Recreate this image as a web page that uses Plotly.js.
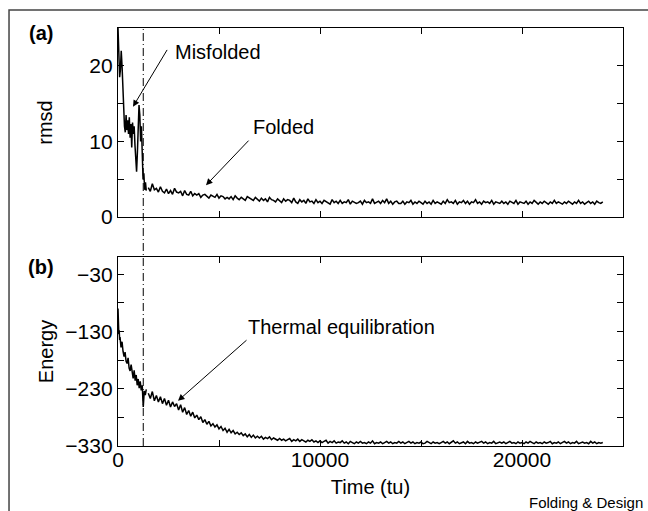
<!DOCTYPE html>
<html>
<head>
<meta charset="utf-8">
<script src="https://cdn.plot.ly/plotly-3.0.1.min.js"></script>
<style>html,body{margin:0;padding:0;background:#fff;}#chart{width:648px;height:511px;}</style>
</head>
<body>
<div id="chart"></div>
<script>
// ---- data ----
// (a) rmsd, early part (fine sampling)
var rmsdEarlyTime = [0,40,80,120,160,200,240,280,320,360,400,440,480,520,560,600,640,680,720,760,800,840,880,920,960,1000,1040,1080,1120,1160,1200,1240,1280,1320,1360,1400];
var rmsdEarly = [25,22,18.5,19.5,22,20,17,14,12,11.2,13.5,11.5,12.8,11.0,13.2,10.5,12.3,9.2,12.5,11.0,12.0,9.5,7.5,6.0,8.5,11.5,14.8,13.5,10.0,12.0,7.5,5.0,5.8,3.6,4.6,3.5];
// (a) rmsd, t = 1500 ... 24000 every 100 tu
var rmsdLateStart = 1500, rmsdLateStep = 100;
var rmsdLate = [
3.9,3.4,4.4,3.6,3.8,
3.3,4.0,3.4,3.2,3.7,3.1,3.5,3.0,3.8,3.3,
3.2,3.4,2.8,3.5,3.0,2.9,3.4,2.8,3.1,2.9,
3.1,2.6,2.9,3.0,2.7,2.5,2.9,2.8,2.6,3.0,
2.5,2.8,2.7,2.4,2.6,2.4,2.7,2.3,2.8,2.5,
2.3,2.6,2.4,2.2,2.7,2.5,2.3,2.2,2.6,2.3,
2.1,2.5,2.2,2.4,2.0,2.6,2.3,2.2,2.0,2.4,
2.2,1.9,2.4,2.1,2.3,2.2,1.9,2.5,2.0,1.8,
2.3,2.0,2.2,1.8,2.4,2.0,2.1,1.8,2.3,1.9,
2.1,1.8,2.2,2.0,1.9,1.7,2.3,1.9,2.1,1.8,
2.2,1.8,2.0,1.9,2.3,1.7,2.1,2.0,1.8,1.9,
2.1,1.7,2.2,1.9,2.0,1.8,2.4,1.8,1.9,2.1,
1.8,2.2,1.9,2.4,1.8,2.1,1.7,2.0,2.1,1.8,
1.8,2.1,1.7,2.0,1.9,2.2,1.7,2.0,1.8,2.1,
1.9,1.7,2.1,1.8,2.0,1.7,2.2,1.8,2.0,1.9,
1.7,2.1,1.8,2.3,1.9,2.0,1.8,2.2,1.7,2.0,
1.9,2.2,1.8,2.1,1.7,2.0,1.9,2.3,1.8,2.0,
1.7,2.1,1.9,2.0,1.8,2.2,1.7,2.0,1.9,1.8,
2.1,1.8,2.0,1.7,2.1,1.9,1.8,2.2,1.7,2.0,
1.9,1.8,2.1,1.7,2.0,1.8,2.2,1.9,1.7,2.0,
1.8,2.1,1.9,1.7,2.0,1.8,2.2,1.8,2.0,1.9,
1.7,2.0,1.8,2.1,1.9,1.7,2.0,1.8,2.2,1.8,
2.0,1.7,1.9,2.1,1.8,2.0,1.7,2.1,1.9,1.8,
2.0];
// (b) energy, early part (fine sampling)
var energyEarlyTime = [0,20,40,60,80,100,150,200,250,300,350,400,450,500,550,600,650,700,750,800,850,900,950,1000,1050,1100,1150,1200,1250,1300,1350,1400];
var energyEarly = [-90,-118,-135,-128,-145,-140,-158,-148,-165,-174,-166,-182,-186,-176,-194,-199,-188,-206,-212,-198,-216,-206,-224,-213,-229,-217,-233,-224,-262,-234,-241,-231];
// (b) energy, t = 1500 ... 24000 every 100 tu
var energyLateStart = 1500, energyLateStep = 100;
var energyLate = [
-238,-247,-235,-251,-242,
-253,-244,-256,-247,-259,-250,-262,-253,-261,-256,
-267,-258,-271,-263,-275,-268,-278,-271,-281,-276,
-284,-279,-289,-284,-292,-287,-295,-291,-297,-293,
-300,-296,-303,-299,-306,-301,-307,-303,-309,-306,
-310,-307,-312,-309,-314,-310,-315,-311,-316,-313,
-316,-313,-318,-315,-317,-314,-319,-316,-318,-320,
-317,-320,-318,-321,-319,-317,-322,-319,-321,-318,
-322,-319,-321,-323,-320,-322,-319,-323,-321,-324,
-321,-324,-322,-320,-325,-322,-324,-321,-325,-323,
-324,-321,-325,-323,-326,-322,-324,-326,-323,-325,
-322,-325,-324,-326,-323,-325,-321,-326,-324,-325,
-323,-326,-324,-322,-325,-323,-326,-324,-325,-322,
-325,-323,-326,-324,-322,-325,-323,-326,-324,-325,
-323,-326,-325,-322,-324,-326,-323,-325,-324,-326,
-324,-322,-325,-323,-326,-324,-321,-325,-323,-326,
-325,-323,-326,-322,-325,-324,-326,-323,-325,-324,
-322,-325,-323,-326,-324,-325,-322,-326,-324,-323,
-325,-323,-326,-324,-322,-325,-324,-326,-323,-325,
-324,-326,-323,-325,-322,-324,-326,-323,-325,-324,
-326,-323,-325,-324,-322,-326,-324,-325,-323,-326,
-324,-322,-325,-323,-326,-324,-325,-322,-326,-324,
-323,-325,-324,-326,-322,-325,-323,-326,-324,-325,
-324];
// vertical marker (misfolded -> folded transition)
var transitionTime = 1250;
// axis ticks
var timeTicks = [0,5000,10000,15000,20000,25000];
var timeTickText = ['0','','10000','','20000',''];
var rmsdTicks = [0,5,10,15,20,25];
var rmsdTickText = ['0','','10','','20',''];
var energyTicks = [-330,-280,-230,-180,-130,-80,-30];
var energyTickText = ['\u2212330','','\u2212230','','\u2212130','','\u221230'];

var FONT = 'Liberation Sans, Arial, Helvetica, sans-serif';
var lineStyle = {color:'#000', width:1.5};

var traces = [
  {x:rmsdEarlyTime, y:rmsdEarly, type:'scatter', mode:'lines', line:lineStyle, xaxis:'x', yaxis:'y', hoverinfo:'skip'},
  {x0:rmsdLateStart, dx:rmsdLateStep, y:rmsdLate, type:'scatter', mode:'lines', line:lineStyle, xaxis:'x', yaxis:'y', hoverinfo:'skip'},
  {x:energyEarlyTime, y:energyEarly, type:'scatter', mode:'lines', line:lineStyle, xaxis:'x2', yaxis:'y2', hoverinfo:'skip'},
  {x0:energyLateStart, dx:energyLateStep, y:energyLate, type:'scatter', mode:'lines', line:lineStyle, xaxis:'x2', yaxis:'y2', hoverinfo:'skip'}
];

var axisCommon = {
  showgrid:false, zeroline:false, showline:true, linecolor:'#000', linewidth:1.2,
  mirror:'ticks', ticks:'inside', ticklen:6, tickwidth:1, tickcolor:'#000',
  tickfont:{family:FONT, size:21, color:'#000'}, tickmode:'array'
};
function ax(extra){ var o = {}; for (var k in axisCommon) o[k]=axisCommon[k]; for (var k2 in extra) o[k2]=extra[k2]; return o; }

var layout = {
  width:648, height:511,
  margin:{l:118, r:25, t:28, b:65},
  paper_bgcolor:'#fff', plot_bgcolor:'#fff',
  showlegend:false,
  font:{family:FONT, color:'#000'},
  xaxis: ax({anchor:'y', range:[0,25000], tickvals:timeTicks, ticktext:timeTicks.map(function(){return '';}), showticklabels:false}),
  yaxis: ax({domain:[0.5478,1], anchor:'x', range:[0,25], tickvals:rmsdTicks, ticktext:rmsdTickText,
             title:{text:'rmsd', font:{family:FONT, size:20, color:'#000'}, standoff:31}}),
  xaxis2: ax({anchor:'y2', range:[0,25000], tickvals:timeTicks, ticktext:timeTickText, ticklabelstandoff:-5,
             title:{text:'Time (tu)', font:{family:FONT, size:20, color:'#000'}, standoff:9}}),
  yaxis2: ax({domain:[0,0.4522], anchor:'x2', range:[-330,0], tickvals:energyTicks, ticktext:energyTickText,
             title:{text:'Energy', font:{family:FONT, size:20, color:'#000'}, standoff:6}}),
  shapes:[
    {type:'line', xref:'x', yref:'paper', x0:transitionTime, x1:transitionTime, y0:0, y1:1,
     line:{color:'#000', width:1, dash:'8px,3px,1px,3px'}},
    {type:'rect', xref:'paper', yref:'paper', x0:-0.2158, x1:1.15, y0:-0.25, y1:1.0431,
     line:{color:'#444', width:1.5}, fillcolor:'rgba(0,0,0,0)', layer:'below'}
  ],
  annotations:[
    {xref:'paper', yref:'paper', x:-0.1525, y:0.988, text:'<b>(a)</b>', showarrow:false, font:{family:FONT, size:20, color:'#000'}, xanchor:'center', yanchor:'middle'},
    {xref:'paper', yref:'paper', x:-0.1525, y:0.428, text:'<b>(b)</b>', showarrow:false, font:{family:FONT, size:20, color:'#000'}, xanchor:'center', yanchor:'middle'},
    {xref:'x', yref:'y', x:4950, y:21.85, text:'Misfolded', showarrow:false, font:{family:FONT, size:20, color:'#000'}},
    {xref:'x', yref:'y', x:743, y:14.6, ax:2475, ay:22.3, axref:'x', ayref:'y', text:'', showarrow:true, arrowhead:2, arrowsize:1.3, arrowwidth:1, arrowcolor:'#000'},
    {xref:'x', yref:'y', x:8193, y:11.9, text:'Folded', showarrow:false, font:{family:FONT, size:20, color:'#000'}},
    {xref:'x', yref:'y', x:4356, y:4.2, ax:6535, ay:10.3, axref:'x', ayref:'y', text:'', showarrow:true, arrowhead:2, arrowsize:1.3, arrowwidth:1, arrowcolor:'#000'},
    {xref:'x2', yref:'y2', x:11040, y:-122, text:'Thermal equilibration', showarrow:false, font:{family:FONT, size:20, color:'#000'}},
    {xref:'x2', yref:'y2', x:2970, y:-251, ax:6436, ay:-143, axref:'x2', ayref:'y2', text:'', showarrow:true, arrowhead:2, arrowsize:1.3, arrowwidth:1, arrowcolor:'#000'},
    {xref:'paper', yref:'paper', x:0.9267, y:-0.134, text:'Folding &amp; Design', showarrow:false, font:{family:FONT, size:15, color:'#000'}, xanchor:'center', yanchor:'middle'}
  ]
};

Plotly.newPlot('chart', traces, layout, {displayModeBar:false, staticPlot:true});
</script>
</body>
</html>
